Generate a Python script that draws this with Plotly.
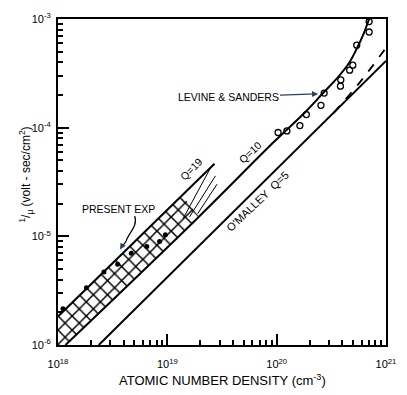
import plotly.graph_objects as go

# ---------------- data ----------------
present_x = [1.11e18, 1.82e18, 2.63e18, 3.51e18, 4.68e18, 6.49e18, 8.49e18, 9.59e18]
present_y = [2.16e-6, 3.36e-6, 4.69e-6, 5.53e-6, 6.97e-6, 8.07e-6, 8.95e-6, 1.035e-5]

ls_x = [1.03e20, 1.24e20, 1.63e20, 1.87e20, 2.54e20, 2.72e20, 3.83e20, 3.86e20,
        4.65e20, 4.97e20, 5.40e20, 7.01e20, 7.01e20]
ls_y = [9.03e-5, 9.33e-5, 1.045e-4, 1.32e-4, 1.607e-4, 2.08e-4, 2.41e-4, 2.75e-4,
        3.38e-4, 3.76e-4, 5.74e-4, 7.59e-4, 9.47e-4]

# Q=10 line continuing into the Levine & Sanders curve
q10_x = [1.17e18, 1.855e19, 9.4e19, 1.81e20, 2.67e20, 3.71e20, 4.64e20, 5.47e20, 6.25e20, 7.0e20]
q10_y = [1e-6, 1.446e-5, 7.37e-5, 1.379e-4, 2.094e-4, 2.985e-4, 4.0e-4, 5.47e-4, 7.33e-4, 1e-3]

# O'Malley Q=5
om_x = [2.36e18, 1e21]
om_y = [1e-6, 4.11e-4]

# dashed branch
dash_x = [3.33e20, 5.93e20, 1e21]
dash_y = [1.37e-4, 2.71e-4, 5.43e-4]

# Q=19 upper boundary of hatched band
q19_x = [1e18, 2.70e19]
q19_y = [1.83e-6, 4.66e-5]

# hatched region outline
hatch_x = [1e18, 1.17e18, 1.94e19, 1.374e19, 1e18]
hatch_y = [1e-6, 1e-6, 1.52e-5, 2.37e-5, 1.83e-6]

# thin fan lines at the end of the band
fan_x = [[1.393e19, 2.487e19], [1.595e19, 2.754e19], [1.894e19, 2.85e19]]
fan_y = [[1.455e-5, 4.28e-5], [1.509e-5, 3.60e-5], [1.616e-5, 3.02e-5]]

x_decades = [18, 19, 20, 21]
y_decades = [-6, -5, -4, -3]
x_tickvals = [10.0 ** d for d in x_decades]
x_ticktext = ["10<sup>%d</sup>" % d for d in x_decades]
y_tickvals = [10.0 ** d for d in y_decades]
y_ticktext = ["10<sup>%d</sup>" % d for d in y_decades]
x_minor = [m * 10.0 ** d for d in x_decades[:-1] for m in range(2, 10)]
y_minor = [m * 10.0 ** d for d in y_decades[:-1] for m in range(2, 10)]

# ---------------- figure ----------------
W, H = 407, 395
ML, MR, MT, MB = 58, 11, 14, 50
PW, PH = W - ML - MR, H - MT - MB
FONT = "Liberation Sans"
TICKC = "black"


def px(x):
    return (x - ML) / PW


def py(y):
    return (H - MB - y) / PH


fig = go.Figure()

for shape in ["/", "\\"]:
    fig.add_trace(go.Scatter(
        x=hatch_x, y=hatch_y, mode="lines", fill="toself",
        line=dict(width=0, color="black"),
        fillcolor="rgba(0,0,0,0)",
        fillpattern=dict(shape=shape, size=10, solidity=0.15, fgcolor="black",
                         bgcolor="rgba(0,0,0,0)", fgopacity=1),
        hoverinfo="skip", showlegend=False))

fig.add_trace(go.Scatter(x=q19_x, y=q19_y, mode="lines",
                         line=dict(color="black", width=2), showlegend=False))
for fx, fy in zip(fan_x, fan_y):
    fig.add_trace(go.Scatter(x=fx, y=fy, mode="lines",
                             line=dict(color="black", width=1), showlegend=False))

fig.add_trace(go.Scatter(x=q10_x, y=q10_y, mode="lines",
                         line=dict(color="black", width=2, shape="spline", smoothing=1.0),
                         showlegend=False))
fig.add_trace(go.Scatter(x=om_x, y=om_y, mode="lines",
                         line=dict(color="black", width=2), showlegend=False))
fig.add_trace(go.Scatter(x=dash_x, y=dash_y, mode="lines",
                         line=dict(color="black", width=1.8, dash="dash", shape="spline"),
                         showlegend=False))

fig.add_trace(go.Scatter(x=present_x, y=present_y, mode="markers",
                         marker=dict(color="black", size=5, symbol="circle"),
                         showlegend=False))
fig.add_trace(go.Scatter(x=ls_x, y=ls_y, mode="markers",
                         marker=dict(color="black", size=6, symbol="circle-open",
                                     line=dict(width=1.3, color="black")),
                         cliponaxis=False, showlegend=False))

axis_common = dict(
    type="log", showgrid=False, zeroline=False,
    showline=True, linecolor="black", linewidth=2, mirror=True,
    ticks="inside", tickcolor=TICKC, ticklen=11, tickwidth=2,
    tickfont=dict(family=FONT, size=11, color="black"),
    layer="above traces",
)

fig.update_xaxes(range=[18, 21], tickmode="array", tickvals=x_tickvals,
                 ticktext=x_ticktext, ticklabelstandoff=8,
                 minor=dict(ticks="inside", ticklen=5, tickwidth=1.5, tickcolor=TICKC,
                            tickmode="array", tickvals=x_minor, showgrid=False),
                 **axis_common)
fig.update_yaxes(range=[-6, -3], tickmode="array", tickvals=y_tickvals,
                 ticktext=y_ticktext, ticklabelstandoff=3,
                 minor=dict(ticks="inside", ticklen=5, tickwidth=1.5, tickcolor=TICKC,
                            tickmode="array", tickvals=y_minor, showgrid=False),
                 **axis_common)


def label(x, y, text, size=10.5, angle=0):
    return dict(x=px(x), y=py(y), xref="paper", yref="paper", text=text,
                showarrow=False, textangle=angle, xanchor="center", yanchor="middle",
                font=dict(family=FONT, size=size, color="black"))


ann = [
    label(227, 381, "ATOMIC NUMBER DENSITY (cm<sup>-3</sup>)", size=13),
    label(25, 172, "<sup>1</sup>/<sub>μ</sub> (volt - sec/cm<sup>2</sup>)", size=12, angle=-90),
    label(120, 207, "PRESENT EXP", size=10.5),
    label(195, 166, "Q=19", size=10.5, angle=-45),
    label(256, 149, "Q=10", size=10.5, angle=-43),
    label(264, 199, "O'MALLEY&nbsp;&nbsp;Q=5", size=11, angle=-44),
    dict(x=px(327), y=py(90), xref="paper", yref="paper",
         ax=236 - 327, ay=93 - 90, axref="pixel", ayref="pixel",
         text="LEVINE & SANDERS", showarrow=True, arrowhead=2, arrowsize=1,
         arrowwidth=1.2, standoff=1,
         font=dict(family=FONT, size=10.5, color="black")),
    dict(x=px(122), y=py(248), xref="paper", yref="paper",
         ax=4, ay=-7, axref="pixel", ayref="pixel",
         text="", showarrow=True, arrowhead=2, arrowsize=1, arrowwidth=1.2),
]

path_pts = [(137, 214), (141, 224), (130, 232), (128, 240)]
path = "M {},{} C {},{} {},{} {},{}".format(
    px(path_pts[0][0]), py(path_pts[0][1]),
    px(path_pts[1][0]), py(path_pts[1][1]),
    px(path_pts[2][0]), py(path_pts[2][1]),
    px(path_pts[3][0]), py(path_pts[3][1]))
path += " L {},{}".format(px(124), py(245))

fig.update_layout(
    width=W, height=H,
    margin=dict(l=ML, r=MR, t=MT, b=MB, pad=0),
    paper_bgcolor="white", plot_bgcolor="white",
    annotations=ann,
    shapes=[dict(type="path", path=path, xref="paper", yref="paper",
                 line=dict(color="black", width=1.2))],
)

fig.write_html("out.html")
